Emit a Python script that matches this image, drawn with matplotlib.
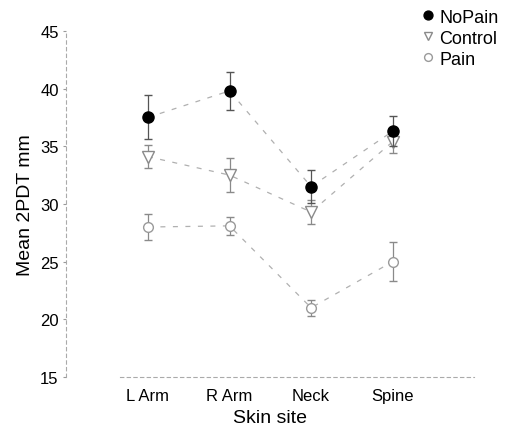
import numpy as np
import matplotlib.pyplot as plt

plt.rcParams["font.family"] = ["Liberation Sans", "DejaVu Sans"]

# skin sites and group means / error bars
sites = ["L Arm", "R Arm", "Neck", "Spine"]
nopain = [37.5, 39.8, 31.5, 36.3]
nopain_err = [1.9, 1.65, 1.4, 1.3]
control = [34.1, 32.5, 29.3, 35.4]
control_err = [1.0, 1.45, 1.0, 1.0]
pain = [28.0, 28.1, 21.0, 25.0]
pain_err = [1.1, 0.8, 0.7, 1.7]

x = np.arange(1, len(sites) + 1)

fig = plt.figure(figsize=(5.1, 4.31), dpi=100)
ax = fig.add_axes([0.13, 0.123, 0.80, 0.803])

# pain group (open circles, faint)
ax.errorbar(x, pain, yerr=pain_err, fmt="o", mfc="white", mec="#9a9a9a",
            ms=7, ecolor="#8a8a8a", elinewidth=0.9, capsize=3, label="Pain", zorder=2)
ax.plot(x, pain, ls=(0, (4, 6)), color="#b0b0b0", lw=0.9, zorder=1)

# control group (open down triangles)
ax.errorbar(x, control, yerr=control_err, fmt="v", mfc="white", mec="#8a8a8a",
            ms=8, ecolor="#8a8a8a", elinewidth=0.9, capsize=3, label="Control", zorder=2)
ax.plot(x, control, ls=(0, (4, 6)), color="#b0b0b0", lw=0.9, zorder=1)

# no pain group (filled black circles)
ax.errorbar(x, nopain, yerr=nopain_err, fmt="o", mfc="black", mec="black",
            ms=8, ecolor="#555555", elinewidth=0.9, capsize=3, label="NoPain", zorder=3)
ax.plot(x, nopain, ls=(0, (4, 6)), color="#b0b0b0", lw=0.9, zorder=1)

ax.set_xlim(0, 5)
ax.set_ylim(15, 45)
ax.set_xticks(x)
ax.set_xticklabels(sites, fontsize=12)
ax.set_yticks([15, 20, 25, 30, 35, 40, 45])
ax.tick_params(axis="y", labelsize=12, length=2, color="#999999")
ax.tick_params(axis="x", length=0, pad=8)

for s in ["top", "right"]:
    ax.spines[s].set_visible(False)
ax.spines["left"].set_color("#aaaaaa")
ax.spines["left"].set_linestyle((0, (3, 3)))
ax.spines["left"].set_linewidth(0.8)
ax.spines["bottom"].set_color("#aaaaaa")
ax.spines["bottom"].set_linestyle((0, (3, 3)))
ax.spines["bottom"].set_linewidth(0.8)
ax.spines["bottom"].set_bounds(0.66, 5)

ax.set_xlabel("Skin site", fontsize=14, labelpad=4)
ax.set_ylabel("Mean 2PDT mm", fontsize=14, labelpad=4)

handles, labels = ax.get_legend_handles_labels()
order = [2, 1, 0]
leg = fig.legend([handles[i][0] for i in order], [labels[i] for i in order],
                 loc="upper left", bbox_to_anchor=(0.79, 1.015), frameon=False,
                 fontsize=13, handletextpad=0.1, labelspacing=0.22,
                 handlelength=1.0, markerscale=0.8)

fig.savefig("out.png", dpi=100)
